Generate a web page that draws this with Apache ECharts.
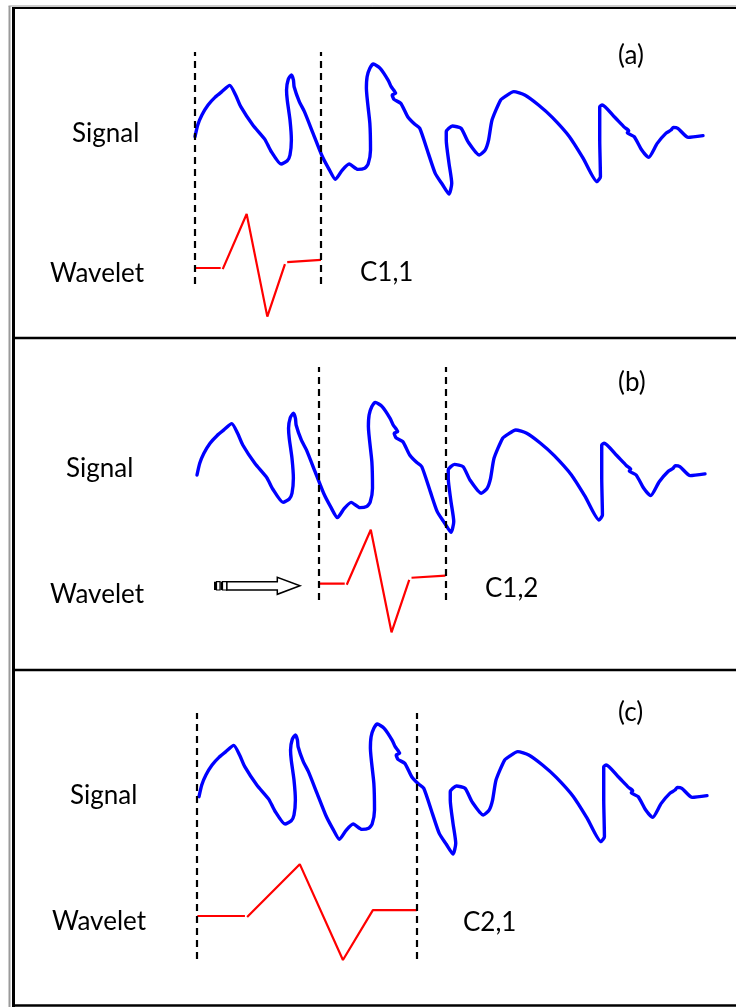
<!DOCTYPE html>
<html>
<head>
<meta charset="utf-8">
<script src="https://cdn.jsdelivr.net/npm/echarts@6/dist/echarts.min.js"></script>
<style>
  html, body { margin: 0; padding: 0; background: #fff; }
  #chart { width: 736px; height: 1007px; }
</style>
</head>
<body>
<div id="chart"></div>
<script>
// Signal trace: time t (0-100) and amplitude v
const signalT = [0.00, 0.54, 1.36, 2.57, 3.93, 5.28, 6.84, 7.99, 9.01, 11.38, 13.75, 14.91, 16.94,
  18.16, 18.70, 18.97, 18.70, 18.16, 18.02, 18.36, 18.97, 19.38, 19.51, 20.53, 21.54, 23.24, 24.93,
  26.29, 27.64, 29.00, 30.35, 32.05, 33.40, 34.08, 34.55, 34.42, 33.74, 33.88, 34.42, 35.09, 36.45,
  38.01, 38.62, 39.50, 38.82, 39.16, 40.51, 41.87, 43.22, 44.24, 45.93, 47.29, 48.64, 50.00, 50.54,
  50.00, 49.46, 49.46, 50.68, 52.37, 53.73, 55.96, 57.11, 57.79, 58.47, 60.16, 61.18, 62.74, 64.91,
  67.62, 70.33, 73.71, 76.42, 79.13, 79.81, 79.67, 79.67, 80.15, 82.52, 84.55, 85.37, 85.10, 86.45,
  87.94, 89.30, 90.99, 92.68, 93.70, 94.17, 95.05, 97.09, 100.00];
const signalV = [45.0, 53.8, 61.3, 68.8, 74.5, 78.8, 83.5, 76.3, 67.5, 53.8, 43.0, 34.5, 24.5,
  27.0, 31.3, 42.5, 57.5, 72.5, 80.0, 88.0, 91.3, 87.5, 82.5, 71.3, 63.8, 47.5, 31.3,
  21.3, 13.0, 20.0, 24.5, 20.5, 21.3, 24.5, 35.0, 55.0, 81.3, 90.0, 96.3, 99.5, 96.3,
  87.5, 82.5, 77.5, 76.3, 73.0, 70.0, 60.0, 54.5, 51.3, 32.5, 17.5, 9.5, 2.0, 10.0,
  25.0, 42.5, 48.8, 53.0, 51.3, 41.3, 31.3, 35.0, 42.5, 57.5, 72.5, 75.5, 78.8, 76.3,
  68.8, 59.5, 45.0, 28.8, 11.3, 15.0, 42.5, 67.5, 68.8, 60.0, 52.0, 49.5, 48.0, 45.0,
  35.0, 29.5, 40.0, 47.5, 50.0, 52.0, 51.3, 44.5, 45.8];

// Mother wavelet on its unit support u in [0, 1]; null = pen lift between strokes
const waveletU = [0, 0.204, null, 0.22, 0.41, 0.574, 0.714, null, 0.732, 1.0];
const waveletW = [0, 0, null, -0.02, 1.0, -0.90, 0.07, null, 0.11, 0.15];

// Dilated (scale 2) wavelet as sketched
const wavelet2U = [0.003, 0.219, null, 0.229, 0.468, 0.664, 0.80, 1.0];
const wavelet2W = [0, 0, null, -0.02, 0.96, -0.815, 0.11, 0.11];

// One step per panel: tag, coefficient, analysis window (t units), scale
const panelTags = ['(a)', '(b)', '(c)'];
const coefLabels = ['C1,1', 'C1,2', 'C2,1'];
const windowStart = [0, 24.0, -0.45];
const windowEnd = [24.8, 48.9, 42.9];
const waveletScale = [1, 1, 2];

// Page layout (pixels)
const SIG_PX = 4 / 3;   // pixels per signal unit
const WAV_PX = 54;      // pixels per wavelet unit
const T_PAD = 2;        // extra t range on each side of the trace
const layout = [
  { left: 195, right: 703, top: 52, bottom: 284, sigZero: 196.7, wavZero: 268,
    tag: [618, 56], sig: [72, 134], wav: [50, 274], coef: [360, 273] },
  { left: 197, right: 705, top: 367, bottom: 600, sigZero: 535, wavZero: 583.7,
    tag: [618, 383], sig: [66, 469], wav: [50, 595], coef: [485, 589] },
  { left: 199, right: 707, top: 713, bottom: 959, sigZero: 856.7, wavZero: 916,
    tag: [618, 713], sig: [70, 796], wav: [52, 922], coef: [463, 923] }
];

const FONT = 'Lato';
const grids = [], xAxes = [], yAxes = [], series = [], graphics = [];

layout.forEach((p, i) => {
  const pxPerT = (p.right - p.left) / 100;
  grids.push({
    left: p.left - T_PAD * pxPerT,
    top: p.top,
    width: (100 + 2 * T_PAD) * pxPerT,
    height: p.bottom - p.top
  });
  xAxes.push({ type: 'value', gridIndex: i, min: -T_PAD, max: 100 + T_PAD, show: false });
  yAxes.push({ type: 'value', gridIndex: i, show: false,
    min: (p.sigZero - p.bottom) / SIG_PX, max: (p.sigZero - p.top) / SIG_PX });
  yAxes.push({ type: 'value', gridIndex: i, show: false,
    min: (p.wavZero - p.bottom) / WAV_PX, max: (p.wavZero - p.top) / WAV_PX });

  // signal
  series.push({
    type: 'line', xAxisIndex: i, yAxisIndex: 2 * i, z: 3,
    data: signalT.map((t, k) => [t, signalV[k]]),
    showSymbol: false, smooth: 0.2, clip: false, silent: true,
    lineStyle: { color: '#0000ff', width: 3.4, cap: 'round', join: 'round' }
  });

  // shifted / dilated wavelet inside its analysis window, plus window edges
  const u = waveletScale[i] === 1 ? waveletU : wavelet2U;
  const w = waveletScale[i] === 1 ? waveletW : wavelet2W;
  const a = windowStart[i], b = windowEnd[i];
  series.push({
    type: 'line', xAxisIndex: i, yAxisIndex: 2 * i + 1, z: 2,
    data: u.map((uu, k) => uu === null ? ['-', '-'] : [a + uu * (b - a), w[k]]),
    showSymbol: false, connectNulls: false, clip: false, silent: true,
    lineStyle: { color: '#ff0000', width: 2.2 },
    markLine: {
      silent: true, symbol: 'none', animation: false,
      label: { show: false },
      lineStyle: { color: '#000', width: 2.2, type: [7, 5] },
      data: [{ xAxis: a }, { xAxis: b }]
    }
  });

  const txt = (text, pos) => ({
    type: 'text', x: pos[0], y: pos[1], z: 10, silent: true,
    style: { text, fill: '#000', fontFamily: FONT, fontSize: 26,
      align: 'left', verticalAlign: 'middle' }
  });
  graphics.push(txt(panelTags[i], p.tag));
  graphics.push(txt('Signal', p.sig));
  graphics.push(txt('Wavelet', p.wav));
  graphics.push(txt(coefLabels[i], p.coef));
});

// frame and panel dividers
const line = (x1, y1, x2, y2, color, width) => ({
  type: 'line', silent: true, z: 1,
  shape: { x1, y1, x2, y2 }, style: { stroke: color, lineWidth: width }
});
graphics.push(line(9.5, 6, 9.5, 1007, '#9a9a9a', 2));
graphics.push(line(8.5, 6, 736, 6, '#9a9a9a', 1));
graphics.push(line(13.5, 8, 13.5, 1007, '#000', 3));
graphics.push(line(12, 8, 736, 8, '#000', 2));
graphics.push(line(12, 338, 736, 338, '#000', 2.5));
graphics.push(line(12, 670, 736, 670, '#000', 2.5));
graphics.push(line(12, 1005.5, 736, 1005.5, '#000', 2.5));

// hollow shift arrow with striped tail in panel (b)
graphics.push({
  type: 'polygon', silent: true, z: 5,
  shape: { points: [[226.7, 581.7], [277.3, 581.7], [277.3, 577.3], [300, 585.8],
                    [277.3, 594.3], [277.3, 590], [226.7, 590]] },
  style: { fill: '#fff', stroke: '#000', lineWidth: 1.5 }
});
graphics.push({ type: 'rect', silent: true, z: 5,
  shape: { x: 214, y: 581.7, width: 2, height: 8.3 }, style: { fill: '#000' } });
graphics.push({ type: 'rect', silent: true, z: 5,
  shape: { x: 216.5, y: 581.7, width: 3.5, height: 8.3 },
  style: { fill: '#fff', stroke: '#000', lineWidth: 1.2 } });
graphics.push({ type: 'rect', silent: true, z: 5,
  shape: { x: 220.5, y: 581.7, width: 1.5, height: 8.3 }, style: { fill: '#000' } });
graphics.push({ type: 'rect', silent: true, z: 5,
  shape: { x: 222.5, y: 581.7, width: 4.2, height: 8.3 },
  style: { fill: '#fff', stroke: '#000', lineWidth: 1.2 } });

const chart = echarts.init(document.getElementById('chart'), null, { renderer: 'canvas' });
chart.setOption({
  animation: false,
  backgroundColor: '#fff',
  grid: grids,
  xAxis: xAxes,
  yAxis: yAxes,
  series: series,
  graphic: { elements: graphics }
});
</script>
</body>
</html>
